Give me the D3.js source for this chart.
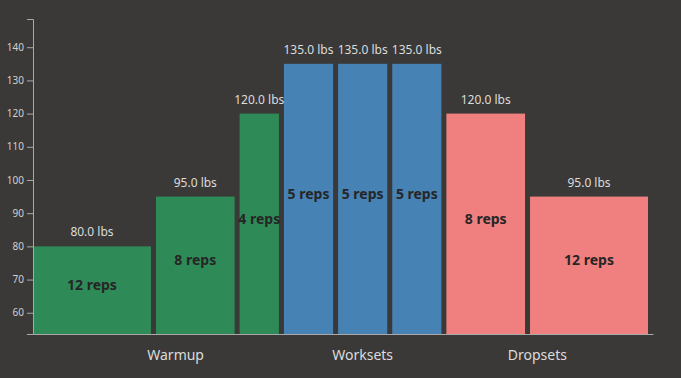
<!DOCTYPE html>
<html lang="en">
<head>
<meta charset="UTF-8">
<title>Workout sets</title>
<style>
html, body { margin: 0; padding: 0; background: #3a3937; }
body { font-family: 'Noto Sans', 'Open Sans', sans-serif; }
svg { display: block; }
.axis path, .axis line { stroke: #a9a9a9; }
.axis text { fill: #d0d0d0; font-size: 10px; font-family: 'Noto Sans', sans-serif; }
.weight { fill: #dcdcdc; font-size: 12px; }
.reps { fill: #262626; font-size: 14px; font-weight: bold; }
.group { fill: #dcdcdc; font-size: 14px; }
</style>
</head>
<body>
<svg width="681" height="378"></svg>
<script src="https://cdnjs.cloudflare.com/ajax/libs/d3/7.8.5/d3.min.js"></script>
<script>
// one entry per set
const groups  = ['Warmup', 'Warmup', 'Warmup', 'Worksets', 'Worksets', 'Worksets', 'Dropsets', 'Dropsets'];
const weights = [80, 95, 120, 135, 135, 135, 120, 95];
const reps    = [12, 8, 4, 5, 5, 5, 8, 12];
const groupNames = ['Warmup', 'Worksets', 'Dropsets'];
const groupColors = ['#2e8b57', '#4682b4', '#f08080'];

var svg = d3.select('svg');
var margin = {top: 19, right: 28, bottom: 44, left: 33};
var width = 681 - margin.left - margin.right;
var height = 378 - margin.top - margin.bottom;
var gap = 5;

var g = svg.append('g').attr('transform', 'translate(' + margin.left + ',' + margin.top + ')');

var totalReps = d3.sum(reps);
var x = d3.scaleLinear().domain([0, totalReps]).range([0, width - gap * reps.length]);
var y = d3.scaleLinear()
  .domain([d3.min(weights) * 0.67, d3.max(weights) * 1.1])
  .range([height, 0]);
var color = d3.scaleOrdinal().domain(groupNames).range(groupColors);

var cum = d3.cumsum([0].concat(reps));
var sets = reps.map(function (r, i) {
  var x0 = x(cum[i]) + i * gap;
  return {
    group: groups[i], weight: weights[i], reps: r,
    x0: x0, w: x(cum[i + 1]) - x(cum[i])
  };
});

g.selectAll('rect.bar')
  .data(sets)
  .enter().append('rect')
  .attr('class', 'bar')
  .attr('x', function (d) { return d.x0; })
  .attr('y', function (d) { return y(d.weight); })
  .attr('width', function (d) { return d.w; })
  .attr('height', function (d) { return height - y(d.weight); })
  .attr('fill', function (d) { return color(d.group); });

g.selectAll('text.weight')
  .data(sets)
  .enter().append('text')
  .attr('class', 'weight')
  .attr('text-anchor', 'middle')
  .attr('x', function (d) { return d.x0 + d.w / 2; })
  .attr('y', function (d) { return y(d.weight) - 10; })
  .text(function (d) { return d.weight.toFixed(1) + ' lbs'; });

g.selectAll('text.reps')
  .data(sets)
  .enter().append('text')
  .attr('class', 'reps')
  .attr('text-anchor', 'middle')
  .attr('x', function (d) { return d.x0 + d.w / 2; })
  .attr('y', function (d) { return (y(d.weight) + height) / 2; })
  .text(function (d) { return d.reps + ' reps'; });

// axes
g.append('g')
  .attr('class', 'axis')
  .call(d3.axisLeft(y).tickValues(d3.range(60, 141, 10)));

g.append('g')
  .attr('class', 'axis')
  .attr('transform', 'translate(0,' + height + ')')
  .call(d3.axisBottom(d3.scaleLinear().range([0, width])).ticks(0).tickSizeOuter(0));

// group labels: midway between first and last bar centres
groupNames.forEach(function (name) {
  var members = sets.filter(function (d) { return d.group === name; });
  var first = members[0], last = members[members.length - 1];
  var cx = ((first.x0 + first.w / 2) + (last.x0 + last.w / 2)) / 2;
  g.append('text')
    .attr('class', 'group')
    .attr('text-anchor', 'middle')
    .attr('x', cx)
    .attr('y', height + 26)
    .text(name);
});
</script>
</body>
</html>
